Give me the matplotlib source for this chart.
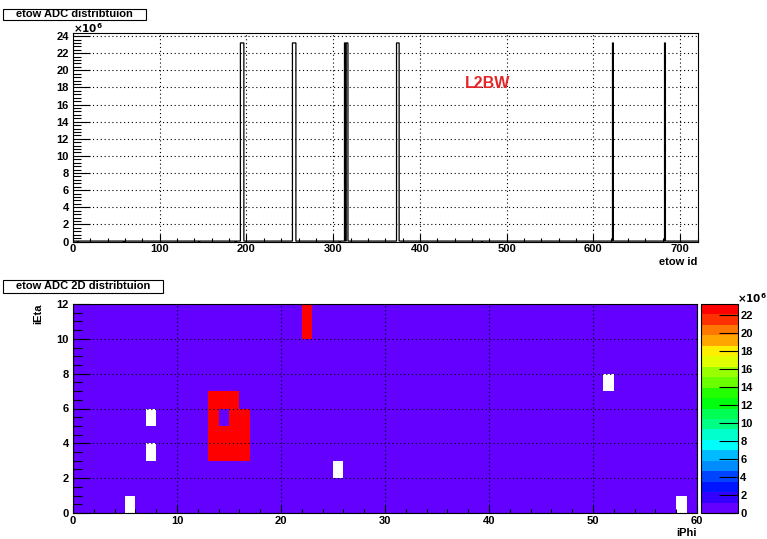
import colorsys
import numpy as np
import matplotlib
matplotlib.use("Agg")
import matplotlib.pyplot as plt
from matplotlib.colors import ListedColormap, BoundaryNorm
from matplotlib.patches import Rectangle
from matplotlib.ticker import MultipleLocator
from matplotlib.cm import ScalarMappable

plt.rcParams['font.family'] = ['Liberation Sans', 'DejaVu Sans']
plt.rcParams['font.weight'] = 'bold'
plt.rcParams['font.size'] = 8

# towers: 60 iPhi x 12 iEta, etow id = iEta*60 + iPhi
n_phi = 60
n_eta = 12
hot_cells = [(13, 3), (13, 4), (13, 5), (13, 6),
             (14, 3), (14, 4), (14, 6),
             (15, 3), (15, 4), (15, 5), (15, 6),
             (16, 3), (16, 4), (16, 5),
             (22, 10), (22, 11)]
empty_cells = [(5, 0), (7, 3), (7, 5), (25, 2), (51, 7), (58, 0)]
hot_adc = 23.2e6
base_adc = 0.05e6
scale = 1e6

adc = np.full((n_eta, n_phi), base_adc)
for p, e in hot_cells:
    adc[e, p] = hot_adc
for p, e in empty_cells:
    adc[e, p] = 0.0
flat = adc.reshape(-1)  # index = iEta*60 + iPhi

# ROOT "pretty" palette, 20 contour bands
n_lev = 20
colors = []
for i in range(n_lev):
    idx = int((i + 0.99) * 50 / n_lev)
    hue = 280 - (idx + 1) * 5.6
    colors.append(colorsys.hls_to_rgb(hue / 360.0, 0.5, 1.0))
cmap = ListedColormap(colors)
cmap.set_bad('white')
cmap.set_over(colors[-1])
zmax = hot_adc / scale
norm = BoundaryNorm(np.linspace(0, zmax, n_lev + 1), n_lev)

W, H = 767, 539
fig = plt.figure(figsize=(W / 100, H / 100), dpi=100)


def fbox(x0, y0, x1, y1):
    return [x0 / W, 1 - y1 / H, (x1 - x0) / W, (y1 - y0) / H]


grid_kw = dict(color='black', linestyle=(0, (1, 2.5)), linewidth=0.8)

# ---- top: 1D distribution
ax1 = fig.add_axes(fbox(73, 33, 697.5, 241.5))
ax1.stairs(flat / scale, np.arange(n_phi * n_eta + 1), color='black', linewidth=0.9)
ax1.set_xlim(0, 720)
ax1.set_ylim(0, zmax * 1.05)
ax1.xaxis.set_major_locator(MultipleLocator(100))
ax1.xaxis.set_minor_locator(MultipleLocator(20))
ax1.yaxis.set_major_locator(MultipleLocator(2))
ax1.yaxis.set_minor_locator(MultipleLocator(0.4))
ax1.tick_params(axis='x', which='major', direction='in', length=5.8, width=0.8, pad=2)
ax1.tick_params(axis='x', which='minor', direction='in', length=2.9, width=0.8)
ax1.tick_params(axis='y', which='major', direction='in', length=12.2, width=0.8, pad=3)
ax1.tick_params(axis='y', which='minor', direction='in', length=6.1, width=0.8)
ax1.grid(True, which='major', **grid_kw)
for s in ax1.spines.values():
    s.set_linewidth(0.8)

# ---- bottom: 2D distribution
ax2 = fig.add_axes(fbox(73, 304, 697, 513))
ax2.pcolormesh(np.arange(n_phi + 1), np.arange(n_eta + 1),
               np.ma.masked_equal(adc, 0) / scale, cmap=cmap, norm=norm)
ax2.set_xlim(0, 60)
ax2.set_ylim(0, 12)
ax2.xaxis.set_major_locator(MultipleLocator(10))
ax2.xaxis.set_minor_locator(MultipleLocator(2))
ax2.yaxis.set_major_locator(MultipleLocator(2))
ax2.yaxis.set_minor_locator(MultipleLocator(0.5))
ax2.tick_params(axis='x', which='major', direction='in', length=5.8, width=0.8, pad=2)
ax2.tick_params(axis='x', which='minor', direction='in', length=2.9, width=0.8)
ax2.tick_params(axis='y', which='major', direction='in', length=12.2, width=0.8, pad=3)
ax2.tick_params(axis='y', which='minor', direction='in', length=6.3, width=0.8)
ax2.grid(True, which='major', **grid_kw)
ax2.set_axisbelow(False)
for s in ax2.spines.values():
    s.set_linewidth(0.8)

# ---- palette
cax = fig.add_axes(fbox(701, 304, 737.5, 513))
cb = fig.colorbar(ScalarMappable(norm=norm, cmap=cmap), cax=cax, ticks=np.arange(0, 23, 2))
cb.outline.set_linewidth(0.8)
cax.yaxis.set_ticks_position('right')
cax.tick_params(axis='y', which='major', direction='in', length=13.5, width=0.8, pad=2)
cax.minorticks_off()

# ---- texts
def title_box(x0, y0, x1, y1, txt):
    fig.add_artist(Rectangle((x0 / W, 1 - y1 / H), (x1 - x0) / W, (y1 - y0) / H,
                             transform=fig.transFigure, facecolor='white',
                             edgecolor='black', linewidth=0.8))
    fig.text((x0 + x1) / 2 / W, 1 - (y0 + y1) / 2 / H, txt, ha='center', va='center', fontsize=8)


title_box(3.5, 8.5, 146, 20, 'etow ADC distribtuion')
title_box(3.5, 279.5, 163, 292.5, 'etow ADC 2D distribtuion')

fig.text(697 / W, 1 - 262 / H, 'etow id', ha='right', va='center', fontsize=8)
fig.text(697 / W, 1 - 533 / H, 'iPhi', ha='right', va='center', fontsize=8)
fig.text(38 / W, 1 - 304 / H, 'iEta', ha='center', va='top', rotation=90, fontsize=8)
fig.text(73 / W, 1 - 28 / H, r'$\times10^{6}$', ha='left', va='center', fontsize=7.5)
fig.text(737 / W, 1 - 298 / H, r'$\times10^{6}$', ha='left', va='center', fontsize=7.5)
fig.text(488 / W, 1 - 84 / H, 'L2BW', ha='center', va='center', fontsize=11.5,
         color='#e3262a', fontweight='bold')

fig.savefig('out.png', dpi=100)
